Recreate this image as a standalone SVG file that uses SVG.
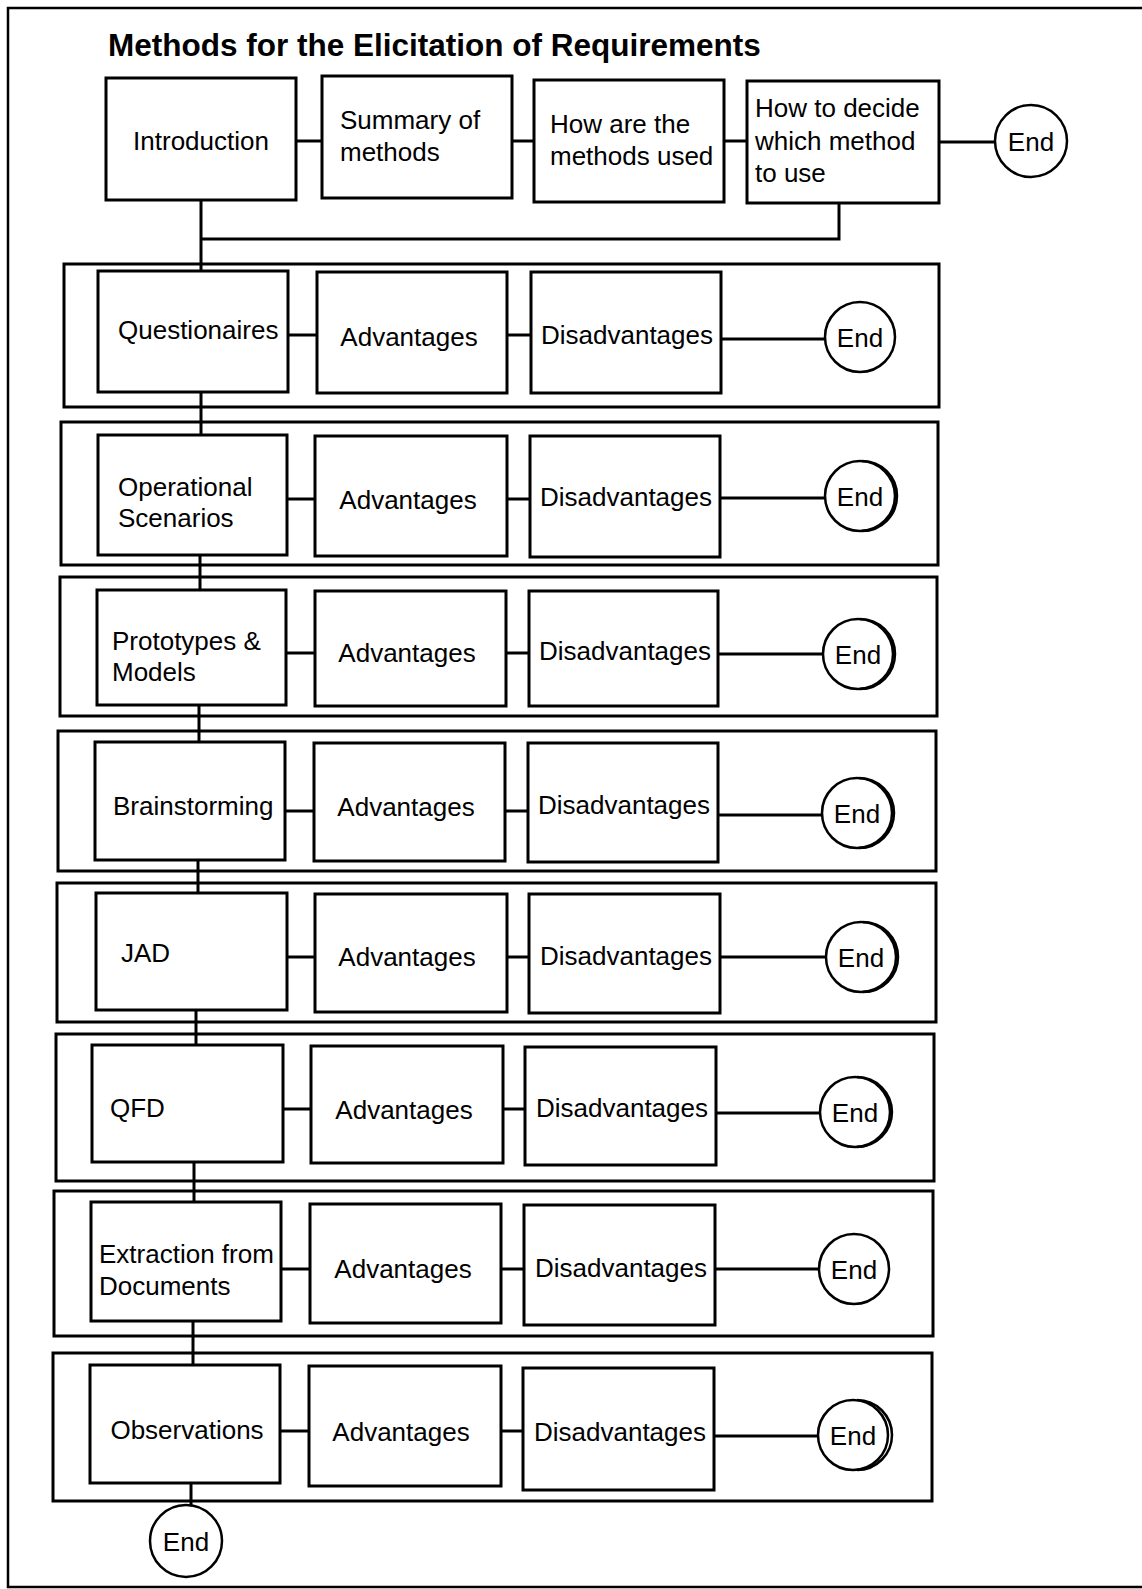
<svg xmlns="http://www.w3.org/2000/svg" width="1142" height="1589" viewBox="0 0 1142 1589">
<style>
.bg{fill:#fff}
.frame{fill:none;stroke:#000;stroke-width:2.5}
.grp{fill:none;stroke:#000;stroke-width:3}
.box{fill:#fff;stroke:#000;stroke-width:3}
.end{fill:#fff;stroke:#000;stroke-width:2.5}
.thick{fill:none;stroke:#000;stroke-width:2.5}
.ln{fill:none;stroke:#000;stroke-width:3}
.t{font-family:"Liberation Sans",Arial,Helvetica,sans-serif;font-size:26px;fill:#000}
.m{text-anchor:middle}
.title{font-family:"Liberation Sans",Arial,Helvetica,sans-serif;font-size:31.5px;font-weight:bold;fill:#000}
</style>
<rect class="bg" x="0" y="0" width="1142" height="1589"/>
<rect class="frame" x="8" y="8" width="1150" height="1579"/>
<g id="title"><text class="title" x="108" y="56">Methods for the Elicitation of Requirements</text></g>

<g id="row-frames">
<rect class="grp" x="64" y="264" width="875" height="143"/>
<rect class="grp" x="61" y="422" width="877" height="143"/>
<rect class="grp" x="60" y="577" width="877" height="139"/>
<rect class="grp" x="58" y="731" width="878" height="140"/>
<rect class="grp" x="57" y="883" width="879" height="139"/>
<rect class="grp" x="56" y="1034" width="878" height="147"/>
<rect class="grp" x="54" y="1191" width="879" height="145"/>
<rect class="grp" x="53" y="1353" width="879" height="148"/>
</g>

<g id="connectors">
<line class="ln" x1="296" y1="141" x2="322" y2="141"/>
<line class="ln" x1="512" y1="141" x2="534" y2="141"/>
<line class="ln" x1="724" y1="141" x2="747" y2="141"/>
<line class="ln" x1="939" y1="142" x2="995" y2="142"/>
<polyline class="ln" points="201,200 201,271"/>
<polyline class="ln" points="201,239 839,239 839,203"/>
<line class="ln" x1="201" y1="392" x2="201" y2="435"/>
<line class="ln" x1="200" y1="555" x2="200" y2="590"/>
<line class="ln" x1="199" y1="705" x2="199" y2="742"/>
<line class="ln" x1="198" y1="860" x2="198" y2="893"/>
<line class="ln" x1="196" y1="1010" x2="196" y2="1045"/>
<line class="ln" x1="194" y1="1162" x2="194" y2="1202"/>
<line class="ln" x1="193" y1="1321" x2="193" y2="1365"/>
<line class="ln" x1="191" y1="1483" x2="191" y2="1506"/>

<line class="ln" x1="288" y1="335" x2="317" y2="335"/>
<line class="ln" x1="507" y1="335" x2="531" y2="335"/>
<line class="ln" x1="721" y1="339" x2="825" y2="339"/>

<line class="ln" x1="287" y1="499" x2="315" y2="499"/>
<line class="ln" x1="507" y1="499" x2="530" y2="499"/>
<line class="ln" x1="720" y1="498" x2="825" y2="498"/>

<line class="ln" x1="286" y1="653" x2="315" y2="653"/>
<line class="ln" x1="506" y1="653" x2="529" y2="653"/>
<line class="ln" x1="718" y1="654" x2="823" y2="654"/>

<line class="ln" x1="286" y1="811" x2="314" y2="811"/>
<line class="ln" x1="505" y1="811" x2="528" y2="811"/>
<line class="ln" x1="718" y1="815" x2="822" y2="815"/>

<line class="ln" x1="287" y1="957" x2="315" y2="957"/>
<line class="ln" x1="507" y1="957" x2="529" y2="957"/>
<line class="ln" x1="720" y1="957" x2="826" y2="957"/>

<line class="ln" x1="283" y1="1109" x2="311" y2="1109"/>
<line class="ln" x1="503" y1="1109" x2="525" y2="1109"/>
<line class="ln" x1="716" y1="1113" x2="820" y2="1113"/>

<line class="ln" x1="281" y1="1269" x2="310" y2="1269"/>
<line class="ln" x1="501" y1="1269" x2="524" y2="1269"/>
<line class="ln" x1="715" y1="1269" x2="819" y2="1269"/>

<line class="ln" x1="280" y1="1431" x2="309" y2="1431"/>
<line class="ln" x1="501" y1="1431" x2="523" y2="1431"/>
<line class="ln" x1="714" y1="1436" x2="818" y2="1436"/>
</g>

<g id="n-intro"><rect class="box" x="106" y="78" width="190" height="122"/><text class="t m" x="201" y="150">Introduction</text></g>
<g id="n-summary"><rect class="box" x="322" y="76" width="190" height="122"/><text class="t" x="340" y="129">Summary of</text><text class="t" x="340" y="161">methods</text></g>
<g id="n-how-used"><rect class="box" x="534" y="80" width="190" height="122"/><text class="t" x="550" y="133">How are the</text><text class="t" x="550" y="165">methods used</text></g>
<g id="n-decide"><rect class="box" x="747" y="81" width="192" height="122"/><text class="t" x="755" y="117">How to decide</text><text class="t" x="755" y="150">which method</text><text class="t" x="755" y="182">to use</text></g>
<g id="n-end-top"><circle class="end" cx="1031" cy="141" r="36"/><text class="t m" x="1031" y="150.5">End</text></g>

<g id="n-questionaires"><rect class="box" x="98" y="271" width="190" height="121"/><text class="t" x="118" y="339">Questionaires</text></g>
<g id="n-adv-1"><rect class="box" x="317" y="272" width="190" height="121"/><text class="t m" x="409" y="346">Advantages</text></g>
<g id="n-dis-1"><rect class="box" x="531" y="272" width="190" height="121"/><text class="t m" x="627" y="344">Disadvantages</text></g>
<g id="n-end-1"><circle class="end" cx="860" cy="337" r="35"/><text class="t m" x="860" y="346.5">End</text></g>

<g id="n-operational"><rect class="box" x="98" y="435" width="189" height="120"/><text class="t" x="118" y="496">Operational</text><text class="t" x="118" y="527">Scenarios</text></g>
<g id="n-adv-2"><rect class="box" x="315" y="436" width="192" height="120"/><text class="t m" x="408" y="509">Advantages</text></g>
<g id="n-dis-2"><rect class="box" x="530" y="436" width="190" height="121"/><text class="t m" x="626" y="506">Disadvantages</text></g>
<g id="n-end-2"><circle class="end" cx="860" cy="496" r="35"/><path class="thick" d="M862,461 A35,35 0 0 1 862,531"/><text class="t m" x="860" y="505.5">End</text></g>

<g id="n-prototypes"><rect class="box" x="97" y="590" width="189" height="115"/><text class="t" x="112" y="650">Prototypes &amp;</text><text class="t" x="112" y="681">Models</text></g>
<g id="n-adv-3"><rect class="box" x="315" y="591" width="191" height="115"/><text class="t m" x="407" y="662">Advantages</text></g>
<g id="n-dis-3"><rect class="box" x="529" y="591" width="189" height="115"/><text class="t m" x="625" y="660">Disadvantages</text></g>
<g id="n-end-3"><circle class="end" cx="858" cy="654" r="35"/><path class="thick" d="M860,619 A35,35 0 0 1 860,689"/><text class="t m" x="858" y="663.5">End</text></g>

<g id="n-brainstorming"><rect class="box" x="95" y="742" width="190" height="118"/><text class="t" x="113" y="815">Brainstorming</text></g>
<g id="n-adv-4"><rect class="box" x="314" y="743" width="191" height="118"/><text class="t m" x="406" y="816">Advantages</text></g>
<g id="n-dis-4"><rect class="box" x="528" y="743" width="190" height="119"/><text class="t m" x="624" y="814">Disadvantages</text></g>
<g id="n-end-4"><circle class="end" cx="857" cy="813" r="35"/><path class="thick" d="M859,778 A35,35 0 0 1 859,848"/><text class="t m" x="857" y="822.5">End</text></g>

<g id="n-jad"><rect class="box" x="96" y="893" width="191" height="117"/><text class="t" x="121" y="962">JAD</text></g>
<g id="n-adv-5"><rect class="box" x="315" y="894" width="192" height="118"/><text class="t m" x="407" y="966">Advantages</text></g>
<g id="n-dis-5"><rect class="box" x="529" y="894" width="191" height="119"/><text class="t m" x="626" y="965">Disadvantages</text></g>
<g id="n-end-5"><circle class="end" cx="861" cy="957" r="35"/><path class="thick" d="M863,922 A35,35 0 0 1 863,992"/><text class="t m" x="861" y="966.5">End</text></g>

<g id="n-qfd"><rect class="box" x="92" y="1045" width="191" height="117"/><text class="t" x="110" y="1117">QFD</text></g>
<g id="n-adv-6"><rect class="box" x="311" y="1046" width="192" height="117"/><text class="t m" x="404" y="1119">Advantages</text></g>
<g id="n-dis-6"><rect class="box" x="525" y="1047" width="191" height="118"/><text class="t m" x="622" y="1117">Disadvantages</text></g>
<g id="n-end-6"><circle class="end" cx="855" cy="1112" r="35"/><path class="thick" d="M857,1077 A35,35 0 0 1 857,1147"/><text class="t m" x="855" y="1121.5">End</text></g>

<g id="n-extraction"><rect class="box" x="91" y="1202" width="190" height="119"/><text class="t" x="99" y="1263">Extraction from</text><text class="t" x="99" y="1295">Documents</text></g>
<g id="n-adv-7"><rect class="box" x="310" y="1204" width="191" height="119"/><text class="t m" x="403" y="1278">Advantages</text></g>
<g id="n-dis-7"><rect class="box" x="524" y="1205" width="191" height="120"/><text class="t m" x="621" y="1277">Disadvantages</text></g>
<g id="n-end-7"><circle class="end" cx="854" cy="1269" r="35"/><text class="t m" x="854" y="1278.5">End</text></g>

<g id="n-observations"><rect class="box" x="90" y="1365" width="190" height="118"/><text class="t m" x="187" y="1439">Observations</text></g>
<g id="n-adv-8"><rect class="box" x="309" y="1366" width="192" height="120"/><text class="t m" x="401" y="1441">Advantages</text></g>
<g id="n-dis-8"><rect class="box" x="523" y="1368" width="191" height="122"/><text class="t m" x="620" y="1441">Disadvantages</text></g>
<g id="n-end-8"><circle class="end" cx="853" cy="1435" r="35"/><path class="thick" d="M857,1400 A35,35 0 0 1 857,1470"/><text class="t m" x="853" y="1444.5">End</text></g>

<g id="n-end-final"><circle class="end" cx="186" cy="1541" r="36"/><text class="t m" x="186" y="1550.5">End</text></g>
</svg>
